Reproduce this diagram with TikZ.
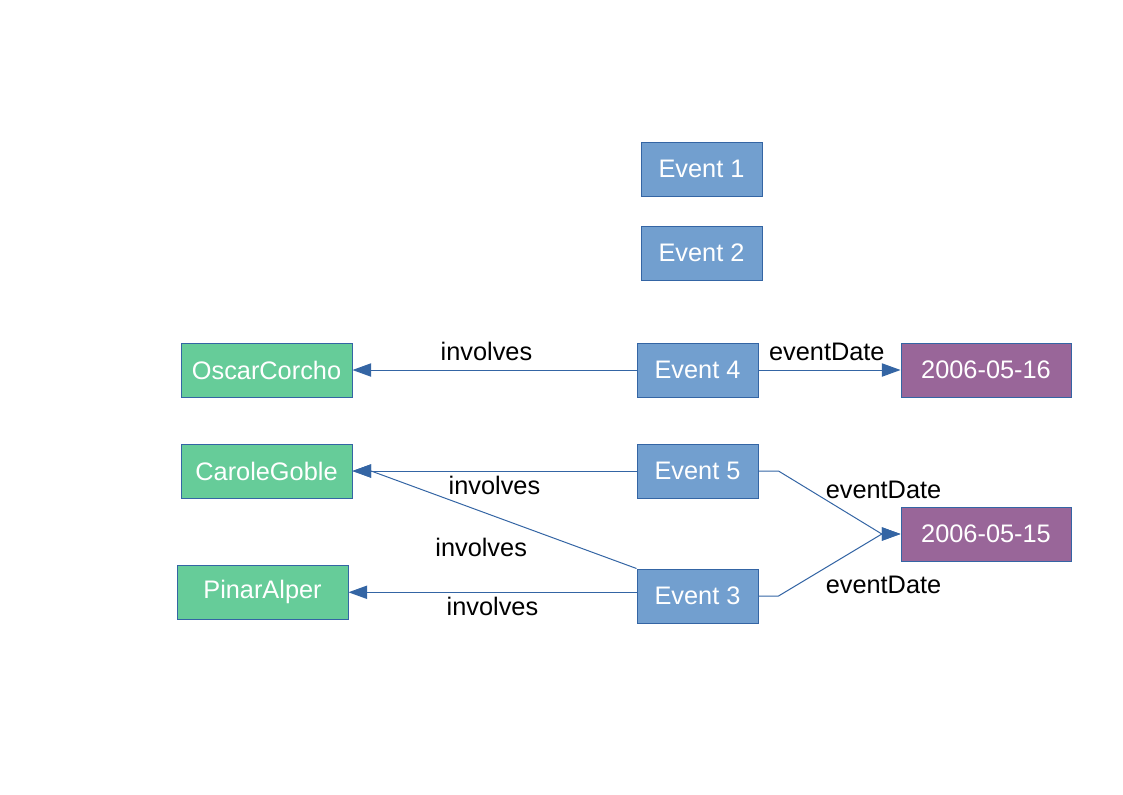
\documentclass[tikz,border=0pt]{standalone}
\usepackage{fontspec}
\setmainfont{Liberation Sans}
\usepackage{xcolor}
\usepackage{tikz}
\usetikzlibrary{arrows.meta,positioning}
\definecolor{eventblue}{HTML}{729FCF}
\definecolor{edgeblue}{HTML}{3465A4}
\definecolor{persongreen}{HTML}{66CC99}
\definecolor{datepurple}{HTML}{996699}

\begin{document}
\begin{tikzpicture}[
  x=0.75pt, y=-0.75pt,
  node distance=34.5pt,
  block/.style={rectangle, draw=edgeblue, line width=0.75pt, minimum width=90.75pt,
                minimum height=40.5pt, inner sep=0pt, text=white,
                font=\fontsize{19}{23}\selectfont, fill=eventblue},
  person/.style={block, fill=persongreen, minimum width=128.25pt},
  date/.style={block, fill=datepurple, minimum width=127.5pt},
  arrow/.style={-{Triangle[length=14pt,width=10pt]}, edgeblue, line width=0.75pt},
  lbl/.style={font=\fontsize{19}{23}\selectfont, text=black, inner sep=6.3pt}
]
  \useasboundingbox (0,0) rectangle (1123,794);
  \node[block] (ev4) at (697.5,370) {Event 4};
  \node[block,above=46.5pt of ev4,xshift=3pt] (ev2) {Event 2};
  \node[block,above=21.75pt of ev2]           (ev1) {Event 1};
  \node[block,below=of ev4]                   (ev5) {Event 5};
  \node[block,below=52.5pt of ev5]            (ev3) {Event 3};
  \node[person,left=213pt of ev4]   (oscar)  {OscarCorcho};
  \node[person,left=213pt of ev5]   (carole) {CaroleGoble};
  \node[person,left=216pt of ev3,yshift=2.8pt] (pinar) {PinarAlper};
  \node[date,right=106.5pt of ev4]  (d16)    {2006-05-16};
  \node[date,below=81.75pt of d16]  (d15)    {2006-05-15};

  \draw[arrow] (ev4) -- (oscar) node[lbl,midway,above,xshift=-6pt] {involves};
  \draw[arrow] (ev4) -- (d16) node[lbl,midway,above,xshift=-2pt] {eventDate};
  \draw[arrow] (ev5) -- (carole) node[lbl,midway,below,yshift=3pt] {involves};
  \draw[arrow] (ev3.north west)
    -- node[lbl,below,xshift=-17pt,yshift=-6.75pt] {involves} ([xshift=14pt]carole.east)
    -- (carole.east);
  \draw[arrow] (ev3.west |- pinar.east) -- (pinar.east)
    node[lbl,midway,below,yshift=3pt] {involves};
  % dates of events 5 and 3
  \draw[arrow] (ev5.east) -- ++(20,0) -- ([xshift=-14pt]d15.west) -- (d15.west)
    node[lbl,pos=1,above,xshift=-12.75pt,yshift=20pt] {eventDate};
  \draw[arrow] (ev3.east) -- ++(20,0) -- ([xshift=-14pt]d15.west) -- (d15.west)
    node[lbl,pos=1,below,xshift=-12.75pt,yshift=-24.75pt] {eventDate};
\end{tikzpicture}
\end{document}
